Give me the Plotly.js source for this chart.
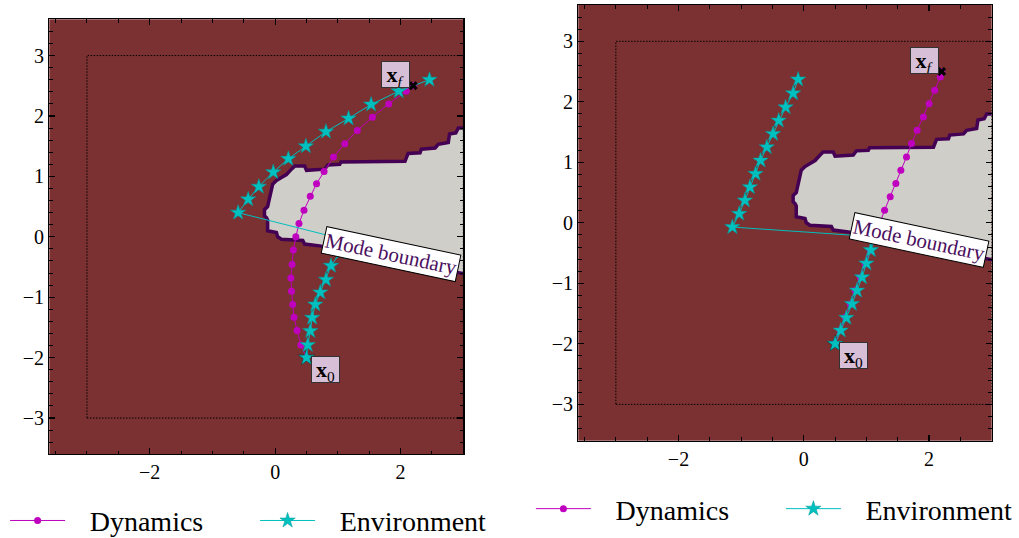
<!DOCTYPE html>
<html>
<head>
<meta charset="utf-8">
<script src="https://cdn.plot.ly/plotly-3.0.1.min.js"></script>
<style>
  html, body { margin: 0; padding: 0; background: #fff; }
  #chart { width: 1019px; height: 538px; }
</style>
</head>
<body>
<div id="chart"></div>
<script>
// Mode region (grid contour) shared by both panels
const modeX = [3.10, 2.92, 2.88, 2.78, 2.76, 2.60, 2.55, 2.33, 2.31, 2.12, 2.07, 1.05, 1.03, 0.84, 0.79, 0.50, 0.47, 0.31, 0.26, 0.18, 0.10, 0.02, -0.04, -0.06, -0.09, -0.12, -0.17, -0.17, -0.14, -0.12, -0.12, 0.02, 0.04, 0.10, 0.44, 0.47, 0.71, 1.20, 1.70, 2.20, 2.70, 3.10, 3.10];
const modeY = [1.80, 1.80, 1.72, 1.70, 1.56, 1.53, 1.47, 1.45, 1.39, 1.38, 1.25, 1.24, 1.20, 1.19, 1.12, 1.10, 1.17, 1.17, 1.12, 1.03, 0.98, 0.93, 0.87, 0.76, 0.59, 0.50, 0.45, 0.35, 0.32, 0.28, 0.10, 0.07, 0.00, -0.04, -0.06, -0.12, -0.15, -0.25, -0.35, -0.45, -0.55, -0.63, 1.80];

// Workspace bounds
const workspaceX = [-3, 3, 3, -3, -3];
const workspaceY = [-3, -3, 3, 3, -3];

// Start and goal states
const startX = [0.5], startY = [-2.0];
const goalX = [2.2], goalY = [2.5];

// Left panel trajectories
const dynLeftX = [0.50, 0.41, 0.35, 0.30, 0.28, 0.26, 0.25, 0.27, 0.29, 0.33, 0.38, 0.46, 0.56, 0.66, 0.78, 0.93, 1.11, 1.31, 1.55, 1.81, 2.09, 2.20];
const dynLeftY = [-2.00, -1.79, -1.55, -1.33, -1.12, -0.90, -0.68, -0.46, -0.22, 0.00, 0.22, 0.44, 0.67, 0.88, 1.08, 1.32, 1.54, 1.76, 1.98, 2.20, 2.41, 2.50];
const envLeftX = [0.50, 0.52, 0.56, 0.59, 0.64, 0.72, 0.81, 0.89, 1.04, 1.12, -0.59, -0.43, -0.26, -0.03, 0.21, 0.49, 0.81, 1.17, 1.53, 1.97, 2.46];
const envLeftY = [-2.00, -1.79, -1.56, -1.34, -1.12, -0.92, -0.71, -0.48, -0.26, -0.05, 0.40, 0.62, 0.83, 1.07, 1.29, 1.50, 1.74, 1.96, 2.19, 2.41, 2.60];

// Right panel trajectories
const dynRightX = [0.50, 0.58, 0.66, 0.74, 0.82, 0.90, 0.98, 1.06, 1.14, 1.21, 1.29, 1.38, 1.47, 1.55, 1.64, 1.72, 1.81, 1.91, 2.00, 2.09, 2.18, 2.20];
const dynRightY = [-2.00, -1.78, -1.56, -1.34, -1.12, -0.90, -0.68, -0.46, -0.24, -0.02, 0.21, 0.43, 0.65, 0.87, 1.09, 1.31, 1.53, 1.75, 1.97, 2.19, 2.41, 2.50];
const envRightX = [0.50, 0.59, 0.68, 0.77, 0.85, 0.93, 1.00, 1.07, 1.14, -1.14, -1.03, -0.94, -0.86, -0.77, -0.69, -0.59, -0.49, -0.40, -0.29, -0.17, -0.09];
const envRightY = [-2.00, -1.78, -1.57, -1.34, -1.12, -0.90, -0.67, -0.45, -0.23, -0.07, 0.15, 0.37, 0.59, 0.81, 1.03, 1.25, 1.47, 1.69, 1.91, 2.14, 2.37];

// Label placement for the mode boundary
const boundaryLabelX = 1.84, boundaryLabelY = -0.29;

// Legend entry names (padded so the text sits clear of the symbol)
const GAP = '\u00a0\u00a0\u2009';
const seriesNames = ['Dynamics', 'Environment'];

const SERIF = 'Liberation Serif';
const BG = '#7b3131';
const REGION = '#d0cec8';
const EDGE = '#440154';
const MAGENTA = '#bf00bf';
const CYAN = '#00bfbf';
const LABEL_BG = '#d8bfd8';

function panelTraces(xa, ya, dynX, dynY, envX, envY, legendId) {
  return [
    { x: modeX, y: modeY, xaxis: xa, yaxis: ya, type: 'scatter', mode: 'lines',
      fill: 'toself', fillcolor: REGION, line: { color: EDGE, width: 3.5 },
      showlegend: false, hoverinfo: 'skip' },
    { x: workspaceX, y: workspaceY, xaxis: xa, yaxis: ya, type: 'scatter', mode: 'lines',
      line: { color: 'black', width: 1, dash: '1.5px,1.5px' }, showlegend: false, hoverinfo: 'skip' },
    { x: startX, y: startY, xaxis: xa, yaxis: ya, type: 'scatter', mode: 'markers',
      marker: { symbol: 'star', size: 13, color: 'black' }, showlegend: false, cliponaxis: false },
    { x: dynX, y: dynY, xaxis: xa, yaxis: ya, type: 'scatter', mode: 'lines+markers', name: GAP + seriesNames[0],
      line: { color: MAGENTA, width: 1 }, marker: { symbol: 'circle', size: 7, color: MAGENTA },
      legend: legendId },
    { x: envX, y: envY, xaxis: xa, yaxis: ya, type: 'scatter', mode: 'lines+markers', name: GAP + seriesNames[1],
      line: { color: CYAN, width: 1 },
      marker: { symbol: 'star', size: 11.5, color: CYAN, line: { color: '#009a9a', width: 0.5 } },
      legend: legendId },
    { x: goalX, y: goalY, xaxis: xa, yaxis: ya, type: 'scatter', mode: 'markers',
      marker: { symbol: 'x', size: 8, color: 'black' }, showlegend: false, cliponaxis: false }
  ];
}

const data = [
  ...panelTraces('x', 'y', dynLeftX, dynLeftY, envLeftX, envLeftY, 'legend'),
  ...panelTraces('x2', 'y2', dynRightX, dynRightY, envRightX, envRightY, 'legend2')
];

function xAxis(domain, anchor) {
  return {
    domain: domain, anchor: anchor, range: [-3.6, 3.0], tick0: 0, dtick: 2,
    ticks: 'inside', ticklen: 6, tickwidth: 1.2, tickcolor: 'black',
    minor: { ticks: 'inside', dtick: 0.5, ticklen: 3.5, tickwidth: 1, tickcolor: 'black' },
    showline: true, linecolor: 'black', linewidth: 1.2, mirror: 'allticks',
    showgrid: false, zeroline: false, fixedrange: true,
    tickfont: { family: SERIF, size: 20, color: 'black' }
  };
}
function yAxis(domain, anchor) {
  return {
    domain: domain, anchor: anchor, range: [-3.6, 3.6], tick0: 0, dtick: 1,
    ticks: 'inside', ticklen: 6, tickwidth: 1.2, tickcolor: 'black',
    minor: { ticks: 'inside', dtick: 0.2, ticklen: 3.5, tickwidth: 1, tickcolor: 'black' },
    showline: true, linecolor: 'black', linewidth: 1.2, mirror: 'allticks',
    showgrid: false, zeroline: false, fixedrange: true,
    tickfont: { family: SERIF, size: 20, color: 'black' }
  };
}

function stateLabels(xref, yref) {
  return [
    { xref: xref, yref: yref, x: goalX[0], y: goalY[0], text: '<b>x</b><sub><i>f</i></sub>',
      showarrow: false, xanchor: 'right', yanchor: 'bottom', xshift: -3, yshift: -2,
      width: 27, height: 25, valign: 'top',
      bgcolor: LABEL_BG, bordercolor: '#333', borderwidth: 1, borderpad: 0,
      font: { family: SERIF, size: 22, color: 'black' } },
    { xref: xref, yref: yref, x: startX[0], y: startY[0], text: '<b>x</b><sub>0</sub>',
      showarrow: false, xanchor: 'left', yanchor: 'top', xshift: 4, yshift: 2,
      width: 27, height: 25, valign: 'top',
      bgcolor: LABEL_BG, bordercolor: '#333', borderwidth: 1, borderpad: 0,
      font: { family: SERIF, size: 22, color: 'black' } },
    { xref: xref, yref: yref, x: boundaryLabelX, y: boundaryLabelY, text: 'Mode boundary',
      showarrow: false, textangle: 12, bgcolor: 'white', bordercolor: 'black', borderwidth: 1,
      borderpad: 1, font: { family: SERIF, size: 21, color: '#4b1060' } }
  ];
}

function legendBox(x, y) {
  return {
    orientation: 'h', x: x, xanchor: 'left', y: y, yanchor: 'middle',
    bgcolor: 'rgba(0,0,0,0)', borderwidth: 0, itemwidth: 55,
    entrywidth: 180, entrywidthmode: 'pixels', itemclick: false, itemdoubleclick: false,
    font: { family: SERIF, size: 28, color: 'black' }
  };
}

const layout = {
  width: 1019, height: 538,
  margin: { l: 0, r: 0, t: 0, b: 0, pad: 0, autoexpand: false },
  paper_bgcolor: 'white', plot_bgcolor: BG,
  font: { family: SERIF, color: 'black' },
  xaxis: xAxis([0.0484, 0.4547], 'y'),
  yaxis: yAxis([0.1556, 0.9641], 'x'),
  xaxis2: xAxis([0.5675, 0.9732], 'y2'),
  yaxis2: yAxis([0.1809, 0.9907], 'x2'),
  legend: legendBox(0.005, 0.032),
  legend2: legendBox(0.521, 0.054),
  annotations: [...stateLabels('x', 'y'), ...stateLabels('x2', 'y2')],
  showlegend: true
};

Plotly.newPlot('chart', data, layout, { displayModeBar: false, staticPlot: true });
</script>
</body>
</html>
